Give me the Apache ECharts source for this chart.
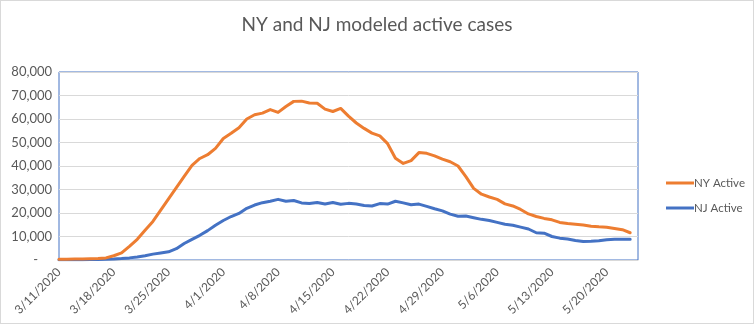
<!DOCTYPE html>
<html>
<head>
<meta charset="utf-8">
<script src="https://cdn.jsdelivr.net/npm/echarts@6/dist/echarts.min.js"></script>
<style>
  html, body { margin: 0; padding: 0; background: #fff; }
  #chart { width: 752px; height: 322px; border: 1px solid #d9d9d9; }
</style>
</head>
<body>
<div id="chart"></div>
<script>
const categories = [
  '3/11/2020','3/12/2020','3/13/2020','3/14/2020','3/15/2020','3/16/2020','3/17/2020',
  '3/18/2020','3/19/2020','3/20/2020','3/21/2020','3/22/2020','3/23/2020','3/24/2020',
  '3/25/2020','3/26/2020','3/27/2020','3/28/2020','3/29/2020','3/30/2020','3/31/2020',
  '4/1/2020','4/2/2020','4/3/2020','4/4/2020','4/5/2020','4/6/2020','4/7/2020',
  '4/8/2020','4/9/2020','4/10/2020','4/11/2020','4/12/2020','4/13/2020','4/14/2020',
  '4/15/2020','4/16/2020','4/17/2020','4/18/2020','4/19/2020','4/20/2020','4/21/2020',
  '4/22/2020','4/23/2020','4/24/2020','4/25/2020','4/26/2020','4/27/2020','4/28/2020',
  '4/29/2020','4/30/2020','5/1/2020','5/2/2020','5/3/2020','5/4/2020','5/5/2020',
  '5/6/2020','5/7/2020','5/8/2020','5/9/2020','5/10/2020','5/11/2020','5/12/2020',
  '5/13/2020','5/14/2020','5/15/2020','5/16/2020','5/17/2020','5/18/2020','5/19/2020',
  '5/20/2020','5/21/2020','5/22/2020','5/23/2020','5/24/2020'
];

const nyActive = [
  300, 300, 400, 400, 500, 600, 900, 1800, 3000, 5800,
  8800, 12700, 16400, 21200, 26000, 30800, 35600, 40300, 43200, 44800,
  47500, 51700, 53900, 56300, 60000, 61800, 62500, 64000, 62800, 65300,
  67500, 67600, 66800, 66700, 64200, 63200, 64500, 61200, 58300, 56000,
  54000, 52800, 49500, 43300, 41100, 42300, 45700, 45400, 44300, 42900,
  41800, 40000, 35500, 30500, 28000, 26800, 25800, 23900, 23000, 21500,
  19600, 18500, 17700, 17100, 16000, 15500, 15200, 14900, 14400, 14100,
  13900, 13400, 12900, 11600
];

const njActive = [
  100, 100, 100, 150, 200, 250, 300, 400, 600, 900,
  1300, 1800, 2500, 3000, 3500, 4800, 7000, 8800, 10500, 12500,
  14800, 16800, 18500, 19800, 22000, 23400, 24400, 25000, 25800, 25000,
  25300, 24300, 24000, 24500, 23800, 24500, 23700, 24100, 23800, 23200,
  23000, 24000, 23800, 25000, 24300, 23500, 23800, 22800, 21800, 20900,
  19500, 18600, 18700, 18000, 17300, 16800, 16000, 15200, 14800, 14000,
  13200, 11600, 11400, 10000, 9300, 8900, 8300, 7900, 8000, 8200,
  8600, 8800, 8800, 8800
];

const seriesNames = ['NY Active', 'NJ Active'];
const titleText = 'NY and NJ modeled active cases';
const yTicks = { min: 0, max: 80000, interval: 10000 };

const FONT = 'Lato, "Open Sans", "Liberation Sans", sans-serif';
const chart = echarts.init(document.getElementById('chart'), null, { renderer: 'canvas' });

chart.setOption({
  animation: false,
  backgroundColor: '#fff',
  title: {
    text: titleText,
    left: 'center',
    top: 9,
    textStyle: { fontFamily: FONT, fontSize: 19, fontWeight: 'normal', color: '#595959' }
  },
  legend: {
    orient: 'vertical',
    left: 660,
    top: 171,
    itemWidth: 28,
    itemHeight: 3,
    itemGap: 13,
    icon: 'rect',
    textStyle: { fontFamily: FONT, fontSize: 11.5, color: '#595959', padding: [0, 0, 0, -5] },
    data: seriesNames
  },
  grid: {
    left: 58,
    top: 71,
    right: 115,
    bottom: 63,
    show: true,
    borderColor: '#4472C4',
    borderWidth: 1,
    containLabel: false
  },
  xAxis: {
    type: 'category',
    boundaryGap: false,
    data: categories,
    axisLine: { show: true, lineStyle: { color: '#d9d9d9', width: 1 } },
    axisTick: { show: false },
    splitLine: { show: false },
    axisLabel: {
      interval: 6,
      rotate: 45,
      margin: 10,
      fontFamily: FONT,
      fontSize: 12,
      color: '#595959'
    }
  },
  yAxis: {
    type: 'value',
    min: yTicks.min,
    max: yTicks.max,
    interval: yTicks.interval,
    axisLine: { show: false },
    axisTick: { show: false },
    splitLine: { lineStyle: { color: '#d9d9d9', width: 1 } },
    axisLabel: {
      margin: 7,
      fontFamily: FONT,
      fontSize: 13,
      color: '#595959',
      formatter: function (v) {
        if (v === 0) return '{d|-}';
        return v.toLocaleString('en-US');
      },
      rich: {
        d: { fontFamily: FONT, fontSize: 13, color: '#595959', padding: [0, 14, 0, 0] }
      }
    }
  },
  series: [
    {
      name: seriesNames[0],
      type: 'line',
      data: nyActive,
      showSymbol: false,
      symbol: 'none',
      color: '#ED7D31',
      lineStyle: { width: 3, color: '#ED7D31', cap: 'round', join: 'round' },
      z: 3
    },
    {
      name: seriesNames[1],
      type: 'line',
      data: njActive,
      showSymbol: false,
      symbol: 'none',
      color: '#4472C4',
      lineStyle: { width: 3, color: '#4472C4', cap: 'round', join: 'round' },
      z: 2
    }
  ]
});
</script>
</body>
</html>
